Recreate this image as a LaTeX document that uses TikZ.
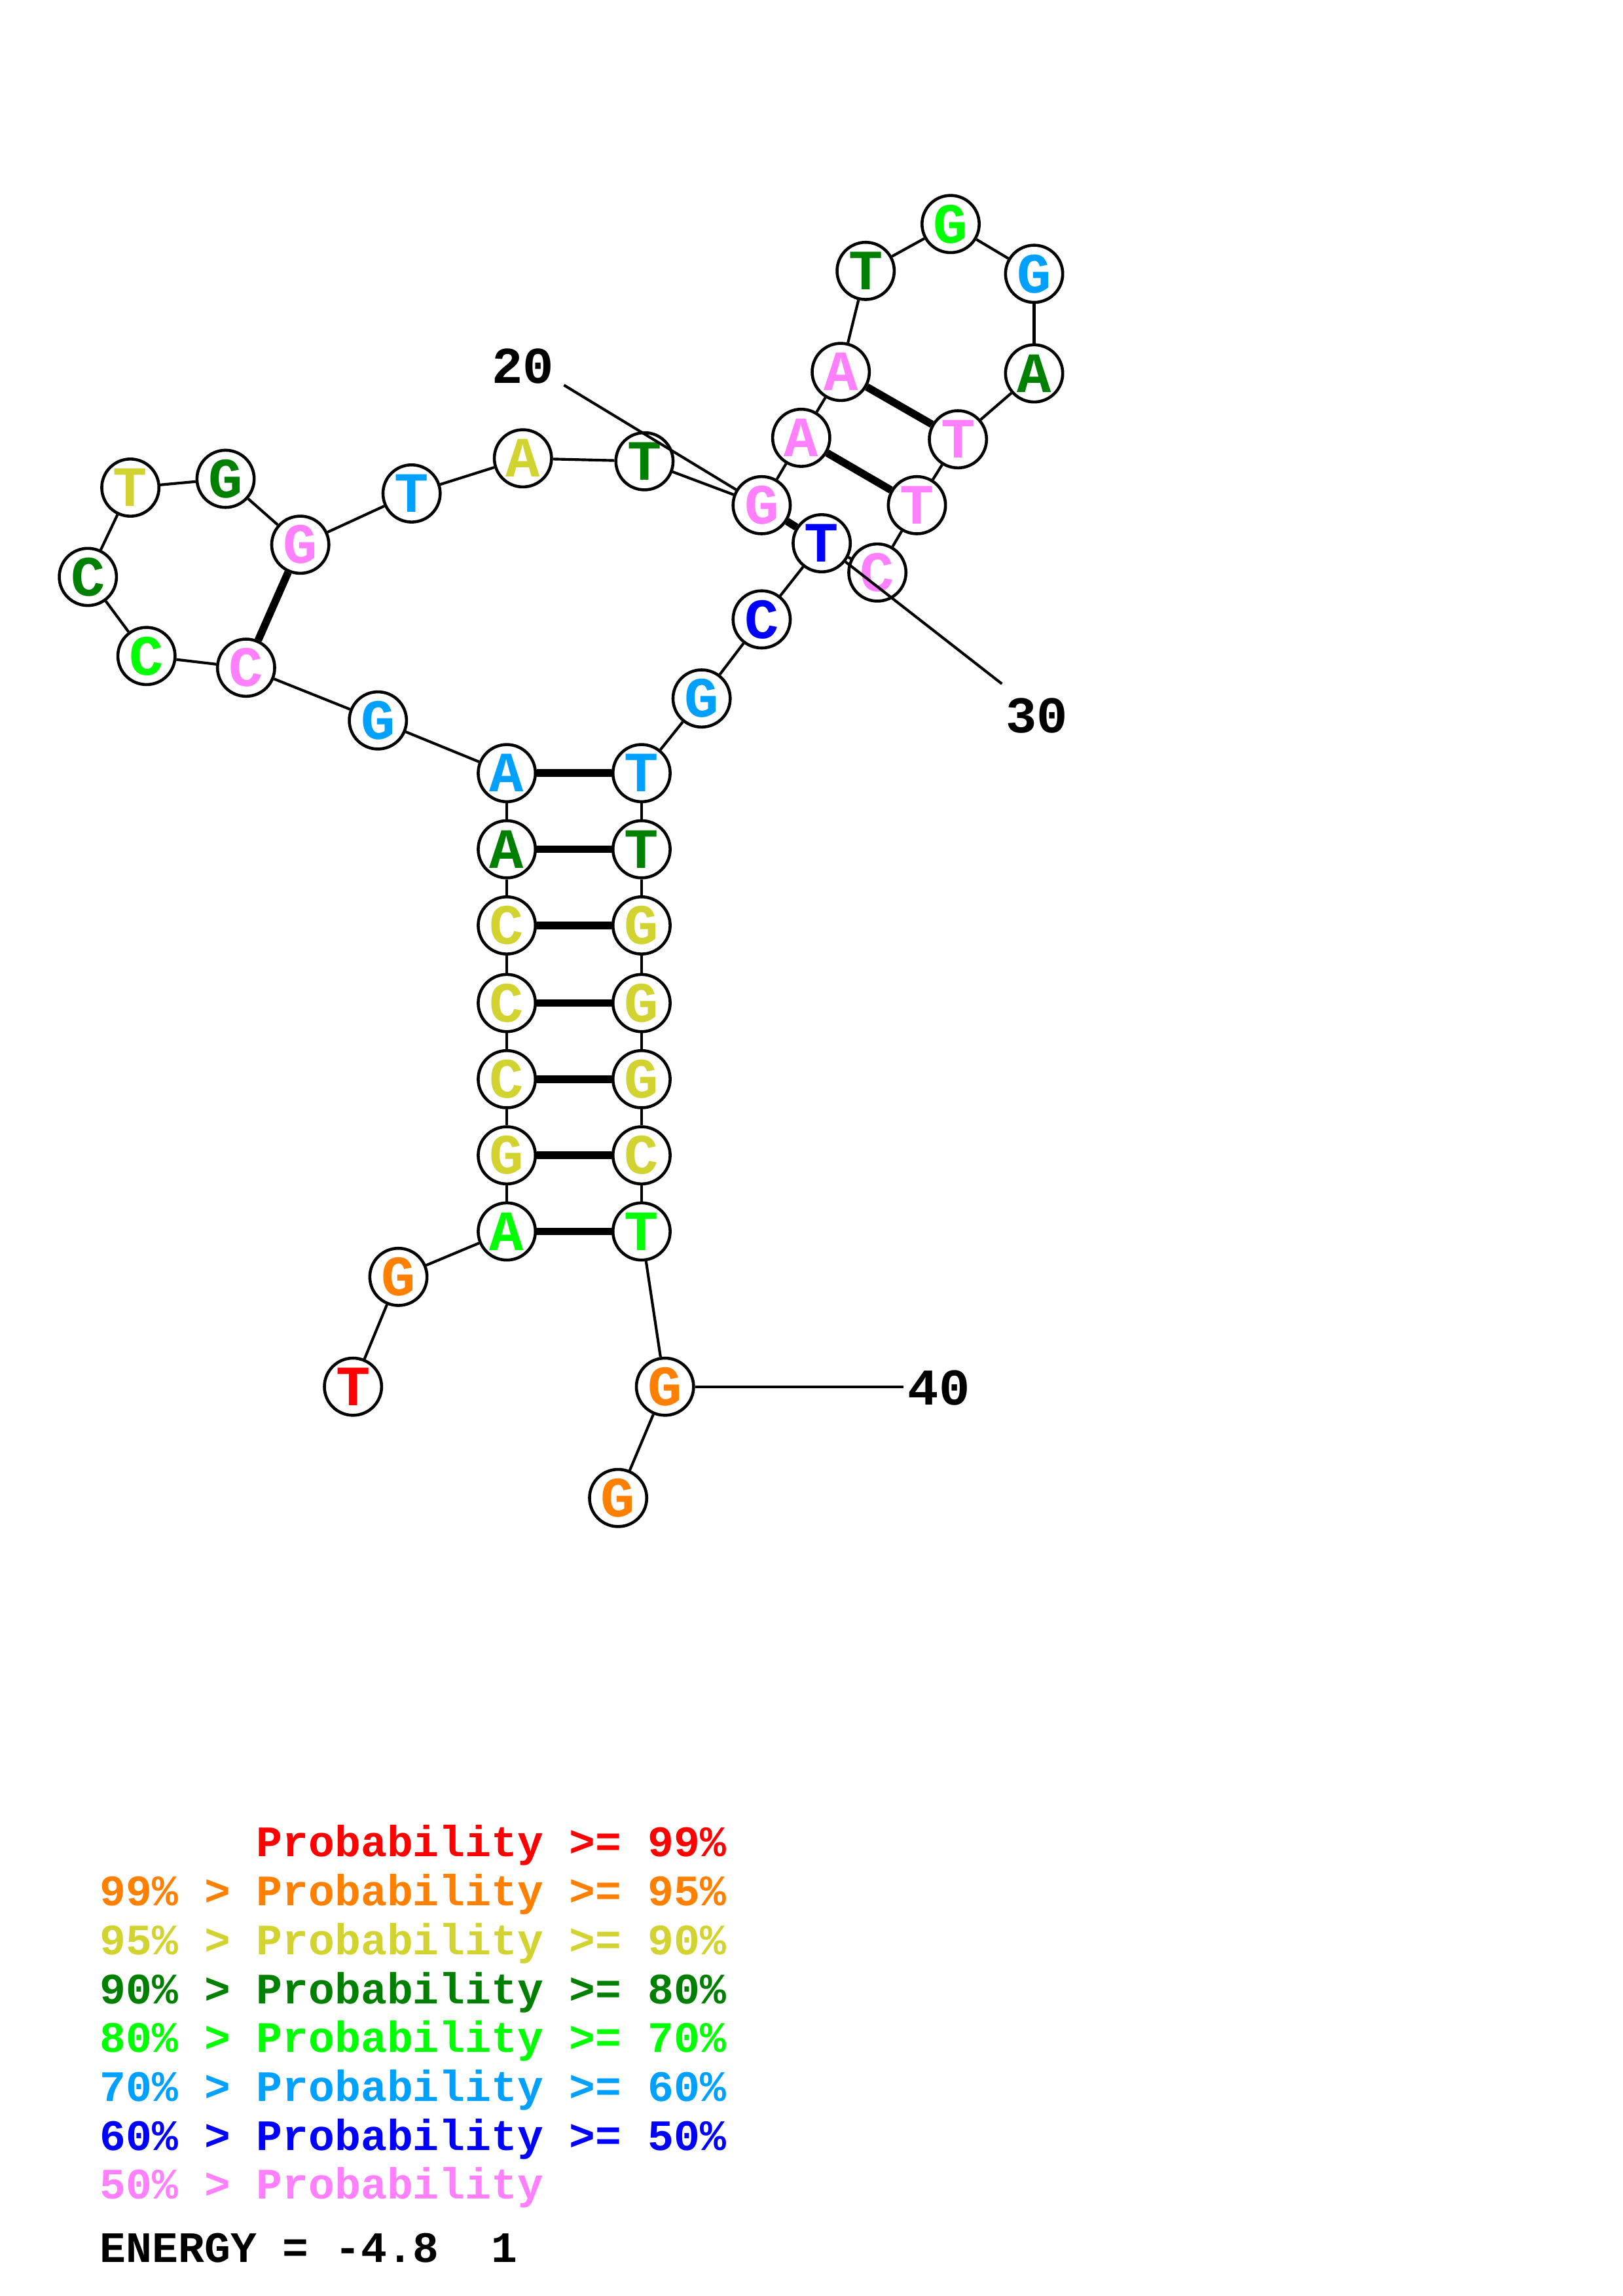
\documentclass[tikz,border=0pt]{standalone}
\usepackage{fontspec}
\setmonofont{Liberation Mono}
\usetikzlibrary{backgrounds}
\definecolor{probred}{RGB}{255,0,0}
\definecolor{proborange}{RGB}{255,128,0}
\definecolor{probyellow}{RGB}{210,210,48}
\definecolor{probdkgreen}{RGB}{0,128,0}
\definecolor{probgreen}{RGB}{0,255,0}
\definecolor{probsky}{RGB}{0,160,255}
\definecolor{probblue}{RGB}{0,0,255}
\definecolor{probpink}{RGB}{255,128,255}
\tikzset{
  nuc/.style={circle,draw=black,fill=white,line width=1.1pt,minimum size=7.4mm,
    inner sep=0pt,font=\ttfamily\bfseries\fontsize{21}{21}\selectfont},
  backbone/.style={line width=1pt},
  pairbond/.style={line width=2.8pt},
  posline/.style={line width=1pt},
  poslabel/.style={inner sep=0pt,font=\ttfamily\bfseries\fontsize{19}{19}\selectfont},
  legendline/.style={anchor=base west,inner sep=0pt,
    font=\ttfamily\bfseries\fontsize{16}{16}\selectfont},
}

\begin{document}
\begin{tikzpicture}[x=0.18953mm,y=-0.18953mm]
\useasboundingbox (0,0) rectangle (1108,1568);
% bases, 5' to 3'
\foreach \n/\px/\py/\b/\c in {
  1/241/947/T/probred,      2/272/872/G/proborange,   3/346/841/A/probgreen,
  4/346/789/G/probyellow,   5/346/737/C/probyellow,   6/346/685/C/probyellow,
  7/346/632/C/probyellow,   8/346/580/A/probdkgreen,  9/346/528/A/probsky,
  10/258/492/G/probsky,     11/168/456/C/probpink,    12/100/448/C/probgreen,
  13/60/394/C/probdkgreen,  14/89/333/T/probyellow,   15/154/327/G/probdkgreen,
  16/205/372/G/probpink,    17/281/337/T/probsky,     18/357/313/A/probyellow,
  19/440/315/T/probdkgreen, 20/520/345/G/probpink,    21/547/299/A/probpink,
  22/574/254/A/probpink,    23/591/185/T/probdkgreen, 24/649/153/G/probgreen,
  25/706/187/G/probsky,     26/706/255/A/probdkgreen, 27/654/300/T/probpink,
  28/626/345/T/probpink,    29/599/391/C/probpink,    30/561/371/T/probblue,
  31/520/423/C/probblue,    32/479/477/G/probsky,     33/438/528/T/probsky,
  34/438/580/T/probdkgreen, 35/438/632/G/probyellow,  36/438/685/G/probyellow,
  37/438/737/G/probyellow,  38/438/789/C/probyellow,  39/438/841/T/probgreen,
  40/454/947/G/proborange,  41/422/1023/G/proborange}
  \node[nuc,text=\c] (n\n) at (\px,\py) {\b};
\begin{scope}[on background layer]
\foreach \i [count=\j from 2] in {1,...,40}
  \draw[backbone] (n\i) -- (n\j);
\foreach \a/\b in {3/39,4/38,5/37,6/36,7/35,8/34,9/33,11/16,20/30,21/28,22/27}
  \draw[pairbond] (n\a) -- (n\b);
\end{scope}
% position marks
\coordinate (m20) at (385,263);
\coordinate (m30) at (684,467);
\coordinate (m40) at (617,947);
\draw[posline] (m20) -- (n20);
\draw[posline] (m30) -- (n30);
\draw[posline] (n40) -- (m40);
\node[poslabel] (p20) at (357,250) {20};
\node[poslabel] (p30) at (708,489) {30};
\node[poslabel] (p40) at (641,948) {40};
% legend
\node[legendline,text=probred]     (leg0) at (68,1268)   {\phantom{99\% > }Probability >= 99\%};
\node[legendline,text=proborange]  (leg1) at (68,1301.4) {99\% > Probability >= 95\%};
\node[legendline,text=probyellow]  (leg2) at (68,1334.8) {95\% > Probability >= 90\%};
\node[legendline,text=probdkgreen] (leg3) at (68,1368.2) {90\% > Probability >= 80\%};
\node[legendline,text=probgreen]   (leg4) at (68,1401.6) {80\% > Probability >= 70\%};
\node[legendline,text=probsky]     (leg5) at (68,1435)   {70\% > Probability >= 60\%};
\node[legendline,text=probblue]    (leg6) at (68,1468.4) {60\% > Probability >= 50\%};
\node[legendline,text=probpink]    (leg7) at (68,1501.8) {50\% > Probability};
\node[legendline,text=black]       (energy) at (68,1545) {ENERGY = -4.8~~1};
\end{tikzpicture}
\end{document}
